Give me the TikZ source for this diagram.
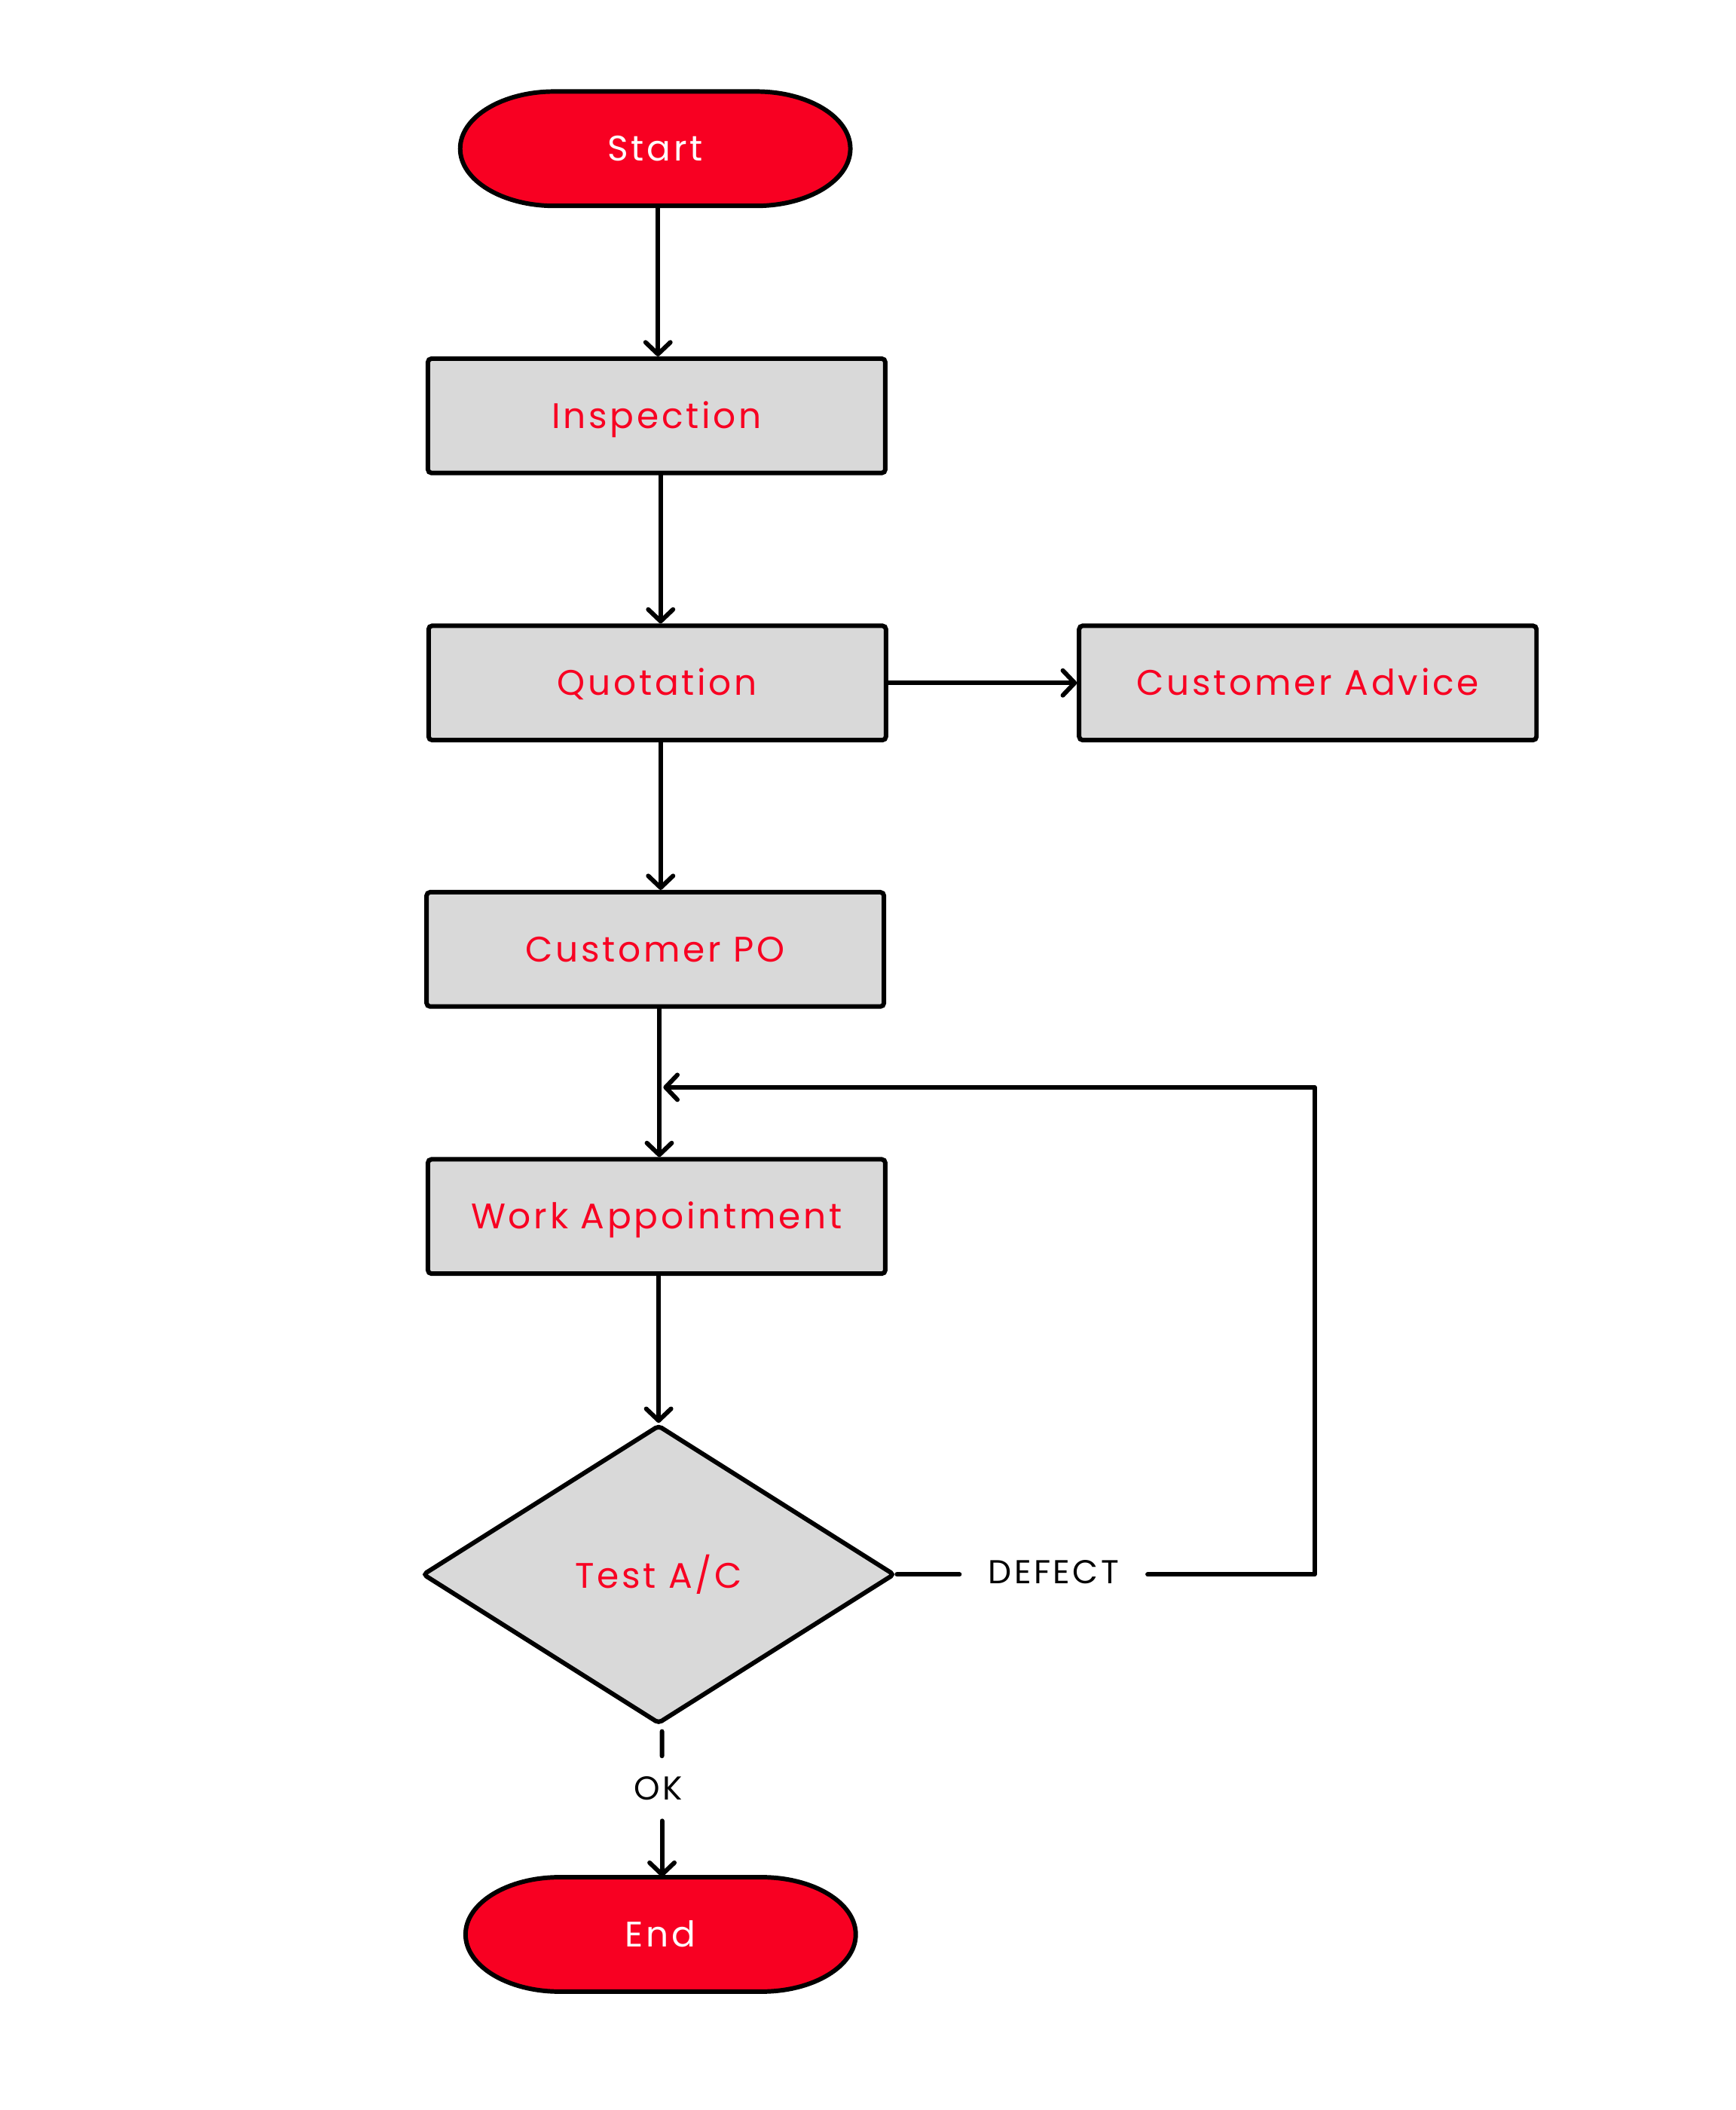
\documentclass[tikz,border=0pt]{standalone}
\usepackage{fontspec}
\setmainfont{Poppins}[LetterSpace=8]
\usetikzlibrary{shapes.geometric,arrows.meta}
\definecolor{termred}{HTML}{F80022}
\definecolor{boxgray}{HTML}{D9D9D9}
\tikzset{
  x=0.02cm, y=0.02cm,
  txt/.style={font=\fontsize{15}{18}\selectfont},
  proc/.style={txt, draw=black, line width=1.9pt, fill=boxgray, rounded corners=1.5pt,
    minimum width=6.8cm, minimum height=1.7cm, text=termred, inner sep=0pt, text height=0.37cm, text depth=0pt},
  term/.style={txt, minimum width=5.8cm, minimum height=1.7cm, text=white, inner sep=0pt, text height=0.37cm, text depth=0pt},
  termshape/.style={fill=termred, draw=black, line width=1.9pt},
  decision/.style={txt, diamond, draw=black, line width=1.9pt, fill=boxgray, text=termred,
    minimum width=7.02cm, minimum height=4.44cm, inner sep=0pt, rounded corners=1.5pt},
  conn/.style={line width=1.9pt, line cap=round, line join=round},
  arr/.style={conn, -{Straight Barb[length=5pt,width=10.5pt,line cap=round,line join=round]}},
  lbl/.style={font=\fontsize{14}{17}\selectfont, text=black}
}
\newcommand\termback[2]{%
  \path[termshape] ({#1-75},{#2+42.5}) -- ({#1+75},{#2+42.5})
    arc[start angle=90,end angle=-90,x radius=70,y radius=42.5]
    -- ({#1-75},{#2-42.5})
    arc[start angle=270,end angle=90,x radius=70,y radius=42.5] -- cycle;}
\begin{document}
\begin{tikzpicture}
\useasboundingbox (0,0) rectangle (1290,-1568);
\fill[white] (0,0) rectangle (1290,-1568);

% terminals
\termback{487}{-110.5}
\node[term] (start) at (487,-110.5) {Start};
\termback{491}{-1437.5}
\node[term] (end) at (491,-1437.5) {End};

% process boxes
\node[proc] (insp) at (488,-309) {Inspection};
\node[proc] (quot) at (488.5,-507.5) {Quotation};
\node[proc] (adv) at (972,-507.5) {Customer Advice};
\node[proc] (po) at (487,-705.5) {Customer PO};
\node[proc] (wa) at (488,-904) {Work Appointment};
\node[decision] (test) at (489.5,-1170) {Test A/C};

% labels
\node[lbl, inner xsep=0.42cm, inner ysep=0pt] (defect) at (783,-1168) {DEFECT};
\node[lbl, inner xsep=0pt, inner ysep=0.3cm] (ok) at (489,-1329) {OK};
\coordinate (loopin) at (493,-808);

% connectors
\draw[arr] (start.south -| 489,0) -- (insp.north -| 489,0);
\draw[arr] (insp.south -| 491,0) -- (quot.north -| 491,0);
\draw[arr] (quot.east) -- (adv.west);
\draw[arr] (quot.south -| 491,0) -- (po.north -| 491,0);
\draw[arr] (po.south -| 490,0) -- (wa.north -| 490,0);
\draw[arr] (wa.south -| 489.5,0) -- (test.north);
\draw[conn] (test.east) -- (defect.west |- test.east);
\draw[arr] (defect.east |- test.east) -- (977,-1170) -- (977,-808) -- (loopin);
\draw[conn] (test.south) ++(2.5,-4) -- (ok.north -| 492,0);
\draw[arr] (ok.south -| 492,0) -- (end.north -| 492,0);
\end{tikzpicture}
\end{document}
